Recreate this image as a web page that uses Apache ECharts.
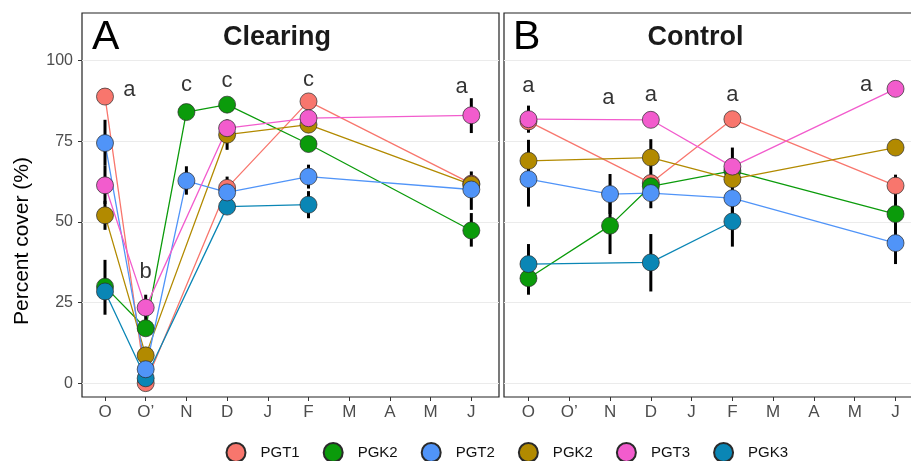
<!DOCTYPE html>
<html>
<head>
<meta charset="utf-8">
<script src="https://cdn.jsdelivr.net/npm/echarts@6/dist/echarts.min.js"></script>
<style>html,body{margin:0;padding:0;background:#fff}#c{width:911px;height:461px}</style>
</head>
<body>
<div id="c"></div>
<script>
// ---- data ----
const months = ['O', 'O’', 'N', 'D', 'J', 'F', 'M', 'A', 'M', 'J'];
const yTicks = [0, 25, 50, 75, 100];
const legendOrder = ['PGT1', 'PGK2', 'PGT2', 'PGK2 ', 'PGT3', 'PGK3'];

// Clearing (panel A)
const clearPGT1  = [88.8, 0.0, null, 60.5, null, 87.3, null, null, null, 61.8];
const clearPGK2  = [29.9, 17.0, 84.0, 86.3, null, 74.1, null, null, null, 47.3];
const clearPGT2  = [74.4, 4.3, 62.7, 59.1, null, 64.0, null, null, null, 60.0];
const clearPGK2b = [52.0, 8.6, null, 77.0, null, 80.1, null, null, null, 61.5];
const clearPGT3  = [61.3, 23.4, null, 79.0, null, 82.1, null, null, null, 83.0];
const clearPGK3  = [28.4, 1.5, null, 54.7, null, 55.3, null, null, null, null];

// Control (panel B)
const ctrlPGT1  = [81.1, null, null, 62.0, null, 81.8, null, null, null, 61.2];
const ctrlPGK2  = [32.5, null, 48.8, 61.0, null, 65.8, null, null, null, 52.4];
const ctrlPGT2  = [63.2, null, 58.6, 58.9, null, 57.3, null, null, null, 43.4];
const ctrlPGK2b = [68.9, null, null, 69.9, null, 63.2, null, null, null, 73.0];
const ctrlPGT3  = [81.8, null, null, 81.6, null, 67.1, null, null, null, 91.2];
const ctrlPGK3  = [36.9, null, null, 37.4, null, 50.1, null, null, null, null];

// error bars: [month index, low, high]
const errClear = [[0,67.5,81.6],[0,55.5,67.5],[0,47.5,56.5],[0,21.2,38.2],[1,19.5,27.4],
  [2,58.4,67.2],[3,72.3,81.7],[3,54.2,64.0],[5,60.3,67.7],[5,51.1,59.5],
  [9,77.5,88.3],[9,53.7,65.6],[9,42.3,52.7]];
const errCtrl = [[0,77.6,86.0],[0,62.5,75.4],[0,54.7,70.0],[0,30.7,43.1],[0,27.4,37.6],
  [2,52.4,64.8],[2,40.0,57.6],[3,64.2,75.6],[3,54.2,64.0],[3,28.4,46.2],
  [5,61.2,73.0],[5,52.0,62.5],[5,42.3,57.9],[9,57.0,64.6],[9,47.0,57.8],[9,36.9,49.9]];

// significance letters: [x, y, letter]
const lettersClear = [[0.6,90.9,'a'],[1,34.6,'b'],[2,92.4,'c'],[3,93.7,'c'],[5,94.1,'c'],[8.76,91.7,'a']];
const lettersCtrl  = [[0,92.2,'a'],[1.96,88.4,'a'],[3,89.4,'a'],[5,89.4,'a'],[8.28,92.5,'a']];

// ---- styling ----
const FONT = '"Liberation Sans", Arial, sans-serif';
const colorOf = {'PGT1':'#F8766D','PGK2':'#0B9B0B','PGT2':'#5094F8','PGK2 ':'#B28A00','PGT3':'#F25CCD','PGK3':'#0A86B5'};
// draw order (bottom -> top)
const drawOrder = ['PGT1','PGK2','PGK2 ','PGK3','PGT2','PGT3'];
const panelData = [
  {'PGT1':clearPGT1,'PGK2':clearPGK2,'PGT2':clearPGT2,'PGK2 ':clearPGK2b,'PGT3':clearPGT3,'PGK3':clearPGK3},
  {'PGT1':ctrlPGT1,'PGK2':ctrlPGK2,'PGT2':ctrlPGT2,'PGK2 ':ctrlPGK2b,'PGT3':ctrlPGT3,'PGK3':ctrlPGK3}
];
const panelErr = [errClear, errCtrl];
const panelLetters = [lettersClear, lettersCtrl];

function pairs(arr){ const out=[]; arr.forEach((v,i)=>{ if(v!==null) out.push([i,v]); }); return out; }

const series = [];
[0,1].forEach(p => {
  drawOrder.forEach(name => {
    series.push({type:'line', name: name + '_line' + p, xAxisIndex:p, yAxisIndex:p,
      data: pairs(panelData[p][name]), showSymbol:false, silent:true, z:2,
      lineStyle:{color:colorOf[name], width:1.3}, itemStyle:{color:colorOf[name]}});
  });
  series.push({type:'custom', name:'err'+p, xAxisIndex:p, yAxisIndex:p, z:3, silent:true,
    data: panelErr[p], encode:{x:0, y:[1,2]},
    renderItem: function(params, api){
      const a = api.coord([api.value(0), api.value(1)]);
      const b = api.coord([api.value(0), api.value(2)]);
      return {type:'line', shape:{x1:a[0],y1:a[1],x2:b[0],y2:b[1]}, style:{stroke:'#000', lineWidth:3}};
    }});
  drawOrder.forEach(name => {
    series.push({type:'scatter', name: name, xAxisIndex:p, yAxisIndex:p, z:4,
      data: pairs(panelData[p][name]), symbol:'circle', symbolSize:17, clip:false,
      itemStyle:{color:colorOf[name], borderColor:'#2a2a2a', borderWidth:0.7, opacity:1}});
  });
  series.push({type:'scatter', name:'letters'+p, xAxisIndex:p, yAxisIndex:p, z:5, silent:true,
    data: panelLetters[p], symbolSize:0,
    label:{show:true, position:'inside', formatter: d => d.value[2], fontSize:22, color:'#000', fontFamily:FONT}});
});

function xAxisCfg(idx, min, max){
  return {type:'value', gridIndex:idx, min:min, max:max,
    axisLine:{show:false, onZero:false},
    axisTick:{show:true, length:4, lineStyle:{color:'#333', width:1}, customValues:[0,1,2,3,4,5,6,7,8,9]},
    axisLabel:{customValues:[0,1,2,3,4,5,6,7,8,9], formatter: v => months[Math.round(v)], fontSize:17, color:'#4D4D4D', margin:7, fontFamily:FONT},
    splitLine:{show:false}};
}
function yAxisCfg(idx, showLabels){
  return {type:'value', gridIndex:idx, min:-4.3, max:114.7,
    axisLine:{show:false, onZero:false},
    axisTick:{show:showLabels, length:4, lineStyle:{color:'#333', width:1}, customValues:yTicks},
    axisLabel:{show:showLabels, customValues:yTicks, fontSize:16, color:'#4D4D4D', margin:9, fontFamily:FONT},
    splitLine:{show:true, lineStyle:{color:'#EBEBEB', width:1.1}}};
}

const option = {
  animation:false,
  backgroundColor:'#fff',
  textStyle:{fontFamily:FONT},
  grid:[
    {left:82, top:13, width:417, height:384, show:true, borderColor:'#222', borderWidth:1.2, backgroundColor:'#fff', outerBoundsMode:'none', containLabel:false},
    {left:504, top:13, width:416, height:384, show:true, borderColor:'#222', borderWidth:1.2, backgroundColor:'#fff', outerBoundsMode:'none', containLabel:false}
  ],
  xAxis:[xAxisCfg(0,-0.565,9.68), xAxisCfg(1,-0.6,9.6)],
  yAxis:[yAxisCfg(0,true), yAxisCfg(1,false)],
  legend:{data:legendOrder, left:225.5, top:442, padding:0, itemWidth:39, itemHeight:19, itemGap:23,
    icon:'circle', selectedMode:false, formatter: n => n.trim(),
    textStyle:{fontSize:15, color:'#111', fontFamily:FONT}},
  graphic:[
    {type:'text', x:92, y:37.5, style:{text:'A', font:'41px '+FONT, fill:'#000', textAlign:'left', verticalAlign:'middle'}},
    {type:'text', x:277, y:38, style:{text:'Clearing', font:'bold 27px '+FONT, fill:'#1a1a1a', textAlign:'center', verticalAlign:'middle'}},
    {type:'text', x:513, y:37.5, style:{text:'B', font:'41px '+FONT, fill:'#000', textAlign:'left', verticalAlign:'middle'}},
    {type:'text', x:695.5, y:38, style:{text:'Control', font:'bold 27px '+FONT, fill:'#1a1a1a', textAlign:'center', verticalAlign:'middle'}},
    {type:'text', x:22, y:241, rotation:Math.PI/2, style:{text:'Percent cover (%)', font:'21px '+FONT, fill:'#000', textAlign:'center', verticalAlign:'middle'}}
  ],
  series: series
};
const chart = echarts.init(document.getElementById('c'), null, {renderer:'canvas'});
chart.setOption(option);
</script>
</body>
</html>
